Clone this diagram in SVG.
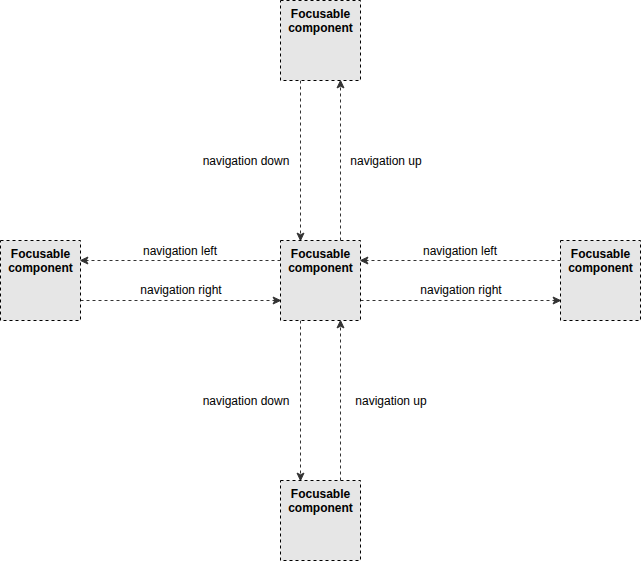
<svg xmlns="http://www.w3.org/2000/svg" width="641" height="561" viewBox="0 0 641 561">
<style>
.box{fill:#e6e6e6;stroke:#000;stroke-width:1;stroke-dasharray:3 3}
.nt{font-family:"Liberation Sans",Arial,Helvetica,sans-serif;font-size:12px;font-weight:bold;fill:#000;text-anchor:middle}
.edge{fill:none;stroke:#333;stroke-width:1;stroke-dasharray:3 3;marker-end:url(#arr)}
.lbl{font-family:"Liberation Sans",Arial,Helvetica,sans-serif;font-size:12px;fill:#000;text-anchor:middle}
</style>
<defs>
<marker id="arr" markerUnits="userSpaceOnUse" markerWidth="9" markerHeight="9" viewBox="0 0 9 9" refX="8.5" refY="4.5" orient="auto">
<path d="M8.5,4.5 L1,1 L2.8,4.5 L1,8 Z" fill="#333" stroke="#333" stroke-width="1"/>
</marker>
</defs>
<rect width="641" height="561" fill="#fff"/>
<g id="connectors">
<line class="edge" x1="300.5" y1="80.5" x2="300.5" y2="240.5"/>
<line class="edge" x1="340.5" y1="240.5" x2="340.5" y2="80.5"/>
<line class="edge" x1="280.5" y1="260.5" x2="80.5" y2="260.5"/>
<line class="edge" x1="80.5" y1="300.5" x2="280.5" y2="300.5"/>
<line class="edge" x1="560.5" y1="260.5" x2="360.5" y2="260.5"/>
<line class="edge" x1="360.5" y1="300.5" x2="560.5" y2="300.5"/>
<line class="edge" x1="300.5" y1="320.5" x2="300.5" y2="480.5"/>
<line class="edge" x1="340.5" y1="480.5" x2="340.5" y2="320.5"/>
<text class="lbl" x="246" y="165">navigation down</text>
<text class="lbl" x="386" y="165">navigation up</text>
<text class="lbl" x="180" y="255">navigation left</text>
<text class="lbl" x="181" y="294">navigation right</text>
<text class="lbl" x="460" y="255">navigation left</text>
<text class="lbl" x="461" y="294">navigation right</text>
<text class="lbl" x="246" y="405">navigation down</text>
<text class="lbl" x="391" y="405">navigation up</text>
</g>
<g id="node-top">
<rect class="box" x="280.5" y="0.5" width="80" height="80"/>
<text class="nt" x="320.5" y="18">Focusable</text>
<text class="nt" x="320.5" y="32">component</text>
</g>
<g id="node-center">
<rect class="box" x="280.5" y="240.5" width="80" height="80"/>
<text class="nt" x="320.5" y="258">Focusable</text>
<text class="nt" x="320.5" y="272">component</text>
</g>
<g id="node-left">
<rect class="box" x="0.5" y="240.5" width="80" height="80"/>
<text class="nt" x="40.5" y="258">Focusable</text>
<text class="nt" x="40.5" y="272">component</text>
</g>
<g id="node-right">
<rect class="box" x="560.5" y="240.5" width="80" height="80"/>
<text class="nt" x="600.5" y="258">Focusable</text>
<text class="nt" x="600.5" y="272">component</text>
</g>
<g id="node-bottom">
<rect class="box" x="280.5" y="480.5" width="80" height="80"/>
<text class="nt" x="320.5" y="498">Focusable</text>
<text class="nt" x="320.5" y="512">component</text>
</g>
</svg>
